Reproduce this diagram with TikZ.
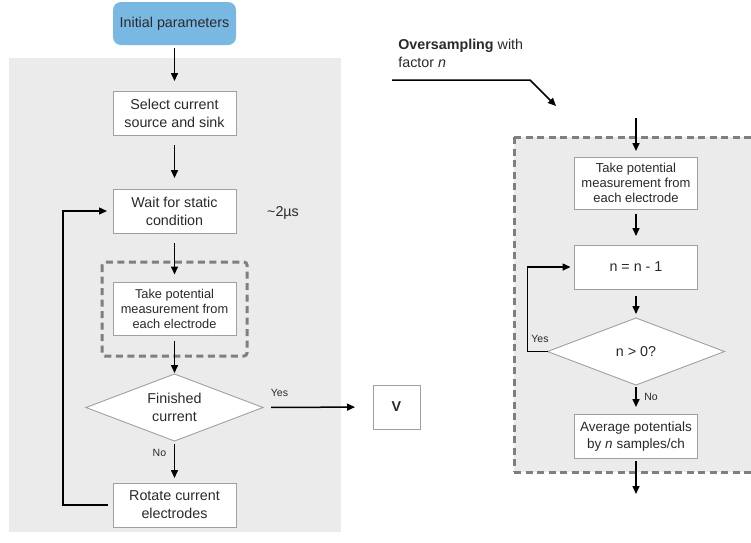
\documentclass[tikz,border=0pt]{standalone}
\usepackage{fontspec}
\setmainfont{Liberation Sans}
\usetikzlibrary{arrows.meta}
\definecolor{panel}{HTML}{EBEBEB}
\definecolor{edge}{HTML}{A0A0A0}
\definecolor{dashgray}{HTML}{7F7F7F}
\definecolor{startblue}{HTML}{7AB8E4}
\definecolor{ink}{HTML}{2A2A2A}
\begin{document}
\begin{tikzpicture}[x=1pt,y=-1pt,
  every node/.style={text=ink, outer sep=0pt},
  proc/.style={draw=edge, line width=0.9pt, fill=white, minimum width=123pt,
    minimum height=44pt, align=center, inner sep=0pt,
    font=\fontsize{14.3}{18}\selectfont},
  meas/.style={proc, minimum height=53pt, font=\fontsize{12.8}{15}\selectfont},
  start/.style={fill=startblue, rounded corners=8pt, minimum width=123pt,
    minimum height=43pt, inner sep=0pt, font=\fontsize{14.3}{18}\selectfont},
  decbox/.style={minimum width=177pt, minimum height=67pt, inner sep=0pt,
    align=center, font=\fontsize{14.3}{18}\selectfont},
  decshape/.style={draw=edge, line width=0.9pt, fill=white},
  flow/.style={draw=black, line width=1.5pt, -{Triangle[length=8pt,width=7pt]}},
  lbl/.style={font=\fontsize{10.5}{12}\selectfont},
  group/.style={draw=dashgray, line width=3pt, dash pattern=on 7pt off 4.5pt},
  note/.style={font=\fontsize{14.3}{18}\selectfont, align=left}
]
\clip (0,0) rectangle (751,542);

% background panels
\fill[panel] (9,58) rectangle (341,532);
\fill[panel] (514,137) rectangle (770,472);
\draw[group] (514,137) -- (770,137) (514,472) -- (770,472) (514,137) -- (514,472);
\draw[group, rounded corners=3pt] (102,262) rectangle (247,356);

% left flow
\node[start] (init) at (174.5,23.5) {Initial parameters};
\node[proc] (sel) at (174.5,113) {Select current\\source and sink};
\node[proc] (wait) at (174.5,211) {Wait for static\\condition};
\node[meas] (take) at (174.5,309) {Take potential\\measurement from\\each electrode};
\node[decbox] (fin) at (174.5,407.5) {};
\draw[decshape] (fin.west) -- (fin.north) -- (fin.east) -- (fin.south) -- cycle;
\node[decbox] at (fin) {Finished\\current};
\node[proc] (rot) at (174.5,505) {Rotate current\\electrodes};
\node[proc, minimum width=47pt, font=\fontsize{14.3}{18}\bfseries] (vout) at (396.5,407) {V};
\node[note] (dt) at (283,213) {\textasciitilde 2µs};

\draw[flow, shorten <=3pt, shorten >=10pt] (init.south) -- (sel.north);
\draw[flow, shorten <=10pt, shorten >=11pt] (sel.south) -- (wait.north);
\draw[flow, shorten <=10pt, shorten >=8pt] (wait.south) -- (take.north);
\draw[flow, shorten <=5pt, shorten >=1pt] (take.south) -- (fin.north);
\draw[flow, shorten <=3pt, shorten >=5pt] (fin.south) -- (rot.north)
  node[lbl, pos=0.28, left=5pt] {No};
\draw[flow, shorten <=8pt, shorten >=18pt] (fin.east) -- (vout.west)
  node[lbl, pos=0.15, above=8pt] {Yes};
\draw[flow, shorten <=5pt, shorten >=6pt] (rot.west) -- ++(-50,0) |- (wait.west);

% oversampling
\node[note, anchor=north west] (os) at (395,36) {\textbf{Oversampling} with\\factor \textit{n}};
\coordinate (osa) at (392,80);
\coordinate (osb) at (530,80);
\coordinate (osc) at (556,106);
\draw[flow] (osa) -- (osb) -- (osc);

% right flow
\coordinate (rin) at (636,118);
\coordinate (rout) at (636,494);
\node[meas, minimum height=52pt, font=\fontsize{13}{15.3}\selectfont] (take2) at (636,183) {Take potential\\measurement from\\each electrode};
\node[proc] (dec) at (636,267) {n = n - 1};
\node[decbox] (chk) at (636,351.5) {};
\draw[decshape] (chk.west) -- (chk.north) -- (chk.east) -- (chk.south) -- cycle;
\node[decbox] at (chk) {n > 0?};
\node[proc, font=\fontsize{13.5}{17}\selectfont] (avg) at (636,436) {Average potentials\\by \textit{n} samples/ch};

\draw[flow, shorten >=6pt] (rin) -- (take2.north);
\draw[flow, shorten <=5pt, shorten >=9pt] (take2.south) -- (dec.north);
\draw[flow, shorten <=7pt, shorten >=4pt] (dec.south) -- (chk.north);
\draw[flow, shorten <=2pt, shorten >=7pt] (chk.south) -- (avg.north)
  node[lbl, pos=0.4, right=5pt] {No};
\draw[flow, shorten >=4pt] (chk.west) -- ++(-20,0) |- (dec.west);
\node[lbl] at (540,339) {Yes};
\draw[flow, shorten <=3pt] (avg.south) -- (rout);
\end{tikzpicture}
\end{document}
